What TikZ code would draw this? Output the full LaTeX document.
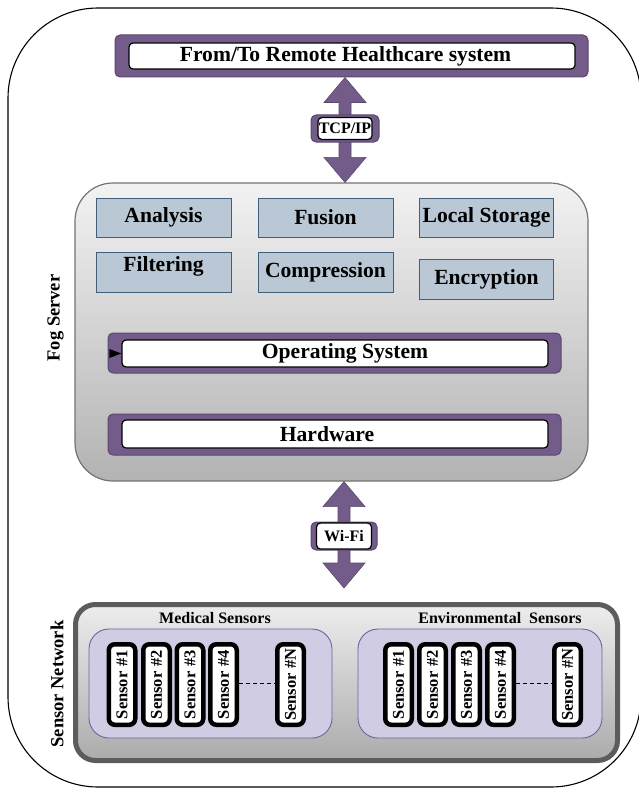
\documentclass[tikz,border=0pt]{standalone}
\usepackage{fontspec}
\setmainfont{Liberation Serif}
\usetikzlibrary{calc}
\definecolor{purp}{HTML}{735C8A}
\definecolor{purpd}{HTML}{5B4870}
\definecolor{bluegray}{HTML}{B9C8D4}
\definecolor{blueedge}{HTML}{3F5F7B}
\definecolor{lav}{HTML}{CFCCE3}
\definecolor{lavedge}{HTML}{6D62A3}
\newcommand\fsbig{\fontsize{21.6}{24}\selectfont}
\newcommand\fsmid{\fontsize{18.5}{21}\selectfont}
\newcommand\fssen{\fontsize{16.5}{19}\selectfont}
\newcommand\fsgrp{\fontsize{16}{18}\selectfont}
\newcommand\fslab{\fontsize{16}{18}\selectfont}
\newcommand\sen[1]{Sensor\hspace{5pt}\##1}
\newcommand\dblarrow[2]{%
 \filldraw[fill=purp, draw=purpd, line width=0.6pt] let \p1=(#1), \p2=(#2) in
  (\x1,\y1) -- (\x1+21pt,\y1-25pt) -- (\x1+6pt,\y1-25pt) -- (\x1+6pt,\y2+25pt) -- (\x1+21pt,\y2+25pt) -- (\x1,\y2) -- (\x1-21pt,\y2+25pt) -- (\x1-6pt,\y2+25pt) -- (\x1-6pt,\y1-25pt) -- (\x1-21pt,\y1-25pt) -- cycle;}
\begin{document}
\begin{tikzpicture}[x=1pt,y=-1pt,
  every node/.style={font=\bfseries, inner sep=0pt},
  purplebar/.style={draw=purpd, fill=purp, line width=1pt, rounded corners=5pt},
  whitebar/.style={draw=black, fill=white, line width=1.2pt, rounded corners=4pt},
  bluebox/.style={draw=blueedge, fill=bluegray, line width=1pt, minimum width=135pt, minimum height=39pt},
  fogbox/.style={draw=black!55, line width=1.2pt, rounded corners=38pt, top color=black!5, bottom color=black!30},
  snbox/.style={draw=black!64, line width=5pt, rounded corners=20pt, top color=black!7, bottom color=black!33},
  group/.style={draw=lavedge, fill=lav, line width=0.9pt, rounded corners=20pt},
  sensorbox/.style={draw=black, fill=white, line width=4.5pt, rounded corners=6pt, rotate=90, minimum width=80.5pt, minimum height=26.5pt, font=\bfseries\fssen},
  dots/.style={draw=black, line width=1pt, dash pattern=on 4pt off 3pt}
]
\useasboundingbox (0,0) rectangle (638,789);
% outer frame
\draw[line width=1.1pt, rounded corners=90pt] (8,8) rectangle (641,787);

% top system
\node[purplebar, minimum width=473pt, minimum height=42pt] (top) at (351.5,56) {};
\node[whitebar, minimum width=446pt, minimum height=26pt, font=\bfseries\fsbig] (topin) at (352,56) {\hspace*{-13pt}From/To Remote Healthcare system};

% fog server
\node[fogbox, minimum width=513pt, minimum height=298pt] (fog) at (331.5,332) {};
\node[rotate=90, font=\bfseries\fsmid] (fogl) at (55.5,318) {Fog Server};

\node[bluebox] (ana) at (163.5,217.5) {\fsbig Analysis};
\node[bluebox] (fus) at (325.5,217.5) {\fsbig Fusion};
\node[bluebox, minimum width=134pt] (loc) at (486.5,217.5) {\fsbig Local Storage};
\node[bluebox, minimum height=40pt] (fil) at (163.5,272) {};
\node[font=\bfseries\fsbig] (filt) at (163.5,266.5) {Filtering};
\node[bluebox, minimum height=40pt] (com) at (325.5,272.5) {\fsbig Compression};
\node[bluebox, minimum width=134pt, minimum height=40pt] (enc) at (486.5,279) {\fsbig Encryption};

\node[purplebar, minimum width=453pt, minimum height=40pt] (os) at (334.5,353) {};
\node[whitebar, minimum width=426pt, minimum height=27pt, font=\bfseries\fsbig] (osin) at (335,353.5) {\hspace*{20pt}Operating System};
\fill[black] (osin.west) -- ++(-12,-4.5) -- ++(0,9) -- cycle;

\node[purplebar, minimum width=453pt, minimum height=41pt] (hw) at (334.5,434.5) {};
\node[whitebar, minimum width=426pt, minimum height=28pt, font=\bfseries\fsbig] (hwin) at (335,434) {\hspace*{-16pt}Hardware};

% sensor network
\node[snbox, minimum width=542pt, minimum height=156pt] (sn) at (346.5,682.5) {};
\node[rotate=90, font=\bfseries\fsmid] (snl) at (57,684) {Sensor Network};

\node[group, minimum width=243pt, minimum height=109pt] (med) at (210.5,683.5) {};
\node[group, minimum width=244pt, minimum height=109pt] (env) at (480,683.5) {};
\node[font=\bfseries\fsgrp] (medl) at (215,618) {Medical Sensors};
\node[font=\bfseries\fsgrp] (envl) at (500,618) {Environmental\ \ Sensors};

\node[sensorbox] (m1) at (122,684.5) {\sen{1}};
\node[sensorbox] (m2) at (156.5,684.5) {\sen{2}};
\node[sensorbox] (m3) at (190,684.5) {\sen{3}};
\node[sensorbox] (m4) at (223.5,684.5) {\sen{4}};
\node[sensorbox] (mN) at (290.5,684.5) {\sen{N}};
\draw[dots] ([yshift=1.5pt]m4.south) -- ([yshift=1.5pt]mN.north);

\node[sensorbox] (e1) at (398.5,684.5) {\sen{1}};
\node[sensorbox] (e2) at (432.5,684.5) {\sen{2}};
\node[sensorbox] (e3) at (466.5,684.5) {\sen{3}};
\node[sensorbox] (e4) at (500.5,684.5) {\sen{4}};
\node[sensorbox] (eN) at (567.5,684.5) {\sen{N}};
\draw[dots] ([yshift=1.5pt]e4.south) -- ([yshift=1.5pt]eN.north);

% arrows
\coordinate (ax1) at (345,128.5);
\coordinate (ax2) at (344,536);
\dblarrow{top.south -| ax1}{fog.north -| ax1}
\dblarrow{fog.south -| ax2}{[yshift=14pt]sn.north -| ax2}

\node[purplebar, minimum width=68pt, minimum height=27pt] (tcp) at (ax1) {};
\node[whitebar, minimum width=54pt, minimum height=22pt, font=\bfseries\fslab] (tcpin) at (ax1) {TCP/IP};
\node[purplebar, minimum width=66pt, minimum height=28pt] (wifi) at (ax2) {};
\node[whitebar, minimum width=55pt, minimum height=26pt, font=\bfseries\fsgrp] (wifiin) at (ax2) {Wi-Fi};
\end{tikzpicture}
\end{document}
